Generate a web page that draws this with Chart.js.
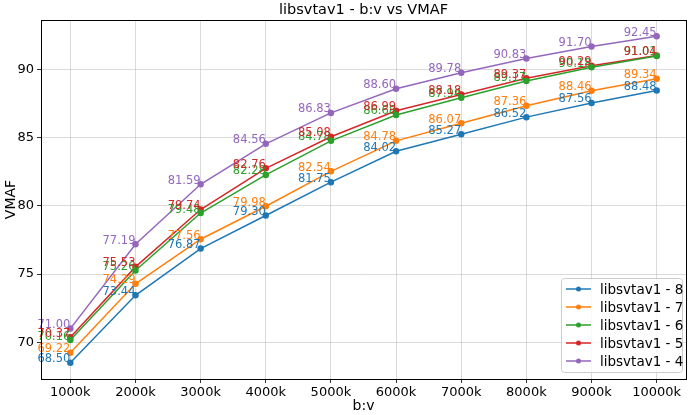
<!DOCTYPE html>
<html><head><meta charset="utf-8">
<script src="https://cdn.jsdelivr.net/npm/chart.js@4.4.1/dist/chart.umd.min.js"></script>
<style>html,body{margin:0;padding:0;background:#fff}#wrap{width:690px;height:415px}</style>
</head><body><div id="wrap"><canvas id="c" width="690" height="415"></canvas></div>
<script>
const bitrates = [1, 2, 3, 4, 5, 6, 7, 8, 9, 10];
const xTickLabels = ["1000k","2000k","3000k","4000k","5000k","6000k","7000k","8000k","9000k","10000k"];
const yTicks = [70, 75, 80, 85, 90];
const seriesNames = ["libsvtav1 - 8","libsvtav1 - 7","libsvtav1 - 6","libsvtav1 - 5","libsvtav1 - 4"];
const preset8 = [68.50, 73.44, 76.87, 79.30, 81.75, 84.02, 85.27, 86.52, 87.56, 88.48];
const preset7 = [69.22, 74.29, 77.56, 79.98, 82.54, 84.78, 86.07, 87.36, 88.46, 89.34];
const preset6 = [70.16, 75.26, 79.48, 82.28, 84.78, 86.68, 87.94, 89.17, 90.18, 91.01];
const preset5 = [70.37, 75.53, 79.74, 82.76, 85.08, 86.99, 88.18, 89.37, 90.29, 91.04];
const preset4 = [71.00, 77.19, 81.59, 84.56, 86.83, 88.60, 89.78, 90.83, 91.70, 92.45];
const colors = ["#1f77b4","#ff7f0e","#2ca02c","#d62728","#9467bd"];
const allValues = [preset8, preset7, preset6, preset5, preset4];

const FONT = "'DejaVu Sans', sans-serif";

const datasets = allValues.map((vals, i) => ({
  label: seriesNames[i],
  data: vals.map((v, j) => ({x: bitrates[j], y: v})),
  borderColor: colors[i],
  backgroundColor: colors[i],
  borderWidth: 1.5,
  pointRadius: 2.5,
  pointHoverRadius: 2.5,
  tension: 0
}));

const decor = {
  id: 'decor',
  afterDatasetsDraw(chart) {
    const ctx = chart.ctx;
    const a = chart.chartArea;
    ctx.save();
    ctx.font = "11.5px " + FONT;
    ctx.textAlign = 'right';
    ctx.textBaseline = 'middle';
    chart.data.datasets.forEach((ds, i) => {
      const meta = chart.getDatasetMeta(i);
      meta.data.forEach((pt, j) => {
        ctx.fillStyle = colors[i];
        ctx.fillText(allValues[i][j].toFixed(2), pt.x, pt.y - 3.5);
      });
    });
    ctx.strokeStyle = '#000';
    ctx.lineWidth = 1;
    ctx.strokeRect(Math.round(a.left) + 0.5, Math.round(a.top) + 0.5, Math.round(a.right - a.left), Math.round(a.bottom - a.top));
    ctx.fillStyle = '#000';
    ctx.font = "14.5px " + FONT;
    ctx.textAlign = 'center';
    ctx.textBaseline = 'middle';
    ctx.fillText("libsvtav1 - b:v vs VMAF", (a.left + a.right) / 2, 10);
    const lw = 121, lh = 94;
    const lx = a.right - 4 - lw, ly = a.bottom - 7 - lh;
    ctx.fillStyle = 'rgba(255,255,255,0.8)';
    ctx.strokeStyle = '#cccccc';
    ctx.lineWidth = 1;
    ctx.beginPath();
    if (ctx.roundRect) ctx.roundRect(lx + 0.5, ly + 0.5, lw, lh, 3); else ctx.rect(lx + 0.5, ly + 0.5, lw, lh);
    ctx.fill(); ctx.stroke();
    ctx.font = "13.5px " + FONT;
    ctx.textAlign = 'left';
    ctx.textBaseline = 'middle';
    seriesNames.forEach((name, i) => {
      const yy = ly + 11 + i * 18;
      ctx.strokeStyle = colors[i];
      ctx.lineWidth = 1.5;
      ctx.beginPath(); ctx.moveTo(lx + 5, yy); ctx.lineTo(lx + 30, yy); ctx.stroke();
      ctx.fillStyle = colors[i];
      ctx.beginPath(); ctx.arc(lx + 17.5, yy, 2.5, 0, Math.PI * 2); ctx.fill();
      ctx.fillStyle = '#000';
      ctx.fillText(name, lx + 39, yy + 1);
    });
    ctx.restore();
  }
};

new Chart(document.getElementById('c'), {
  type: 'line',
  data: { datasets },
  options: {
    responsive: false,
    animation: false,
    devicePixelRatio: 1,
    layout: { padding: { left: 0, right: 4, top: 20, bottom: 0 } },
    plugins: { legend: { display: false }, tooltip: { enabled: false }, title: { display: false } },
    scales: {
      x: {
        type: 'linear',
        min: 0.55, max: 10.45,
        afterBuildTicks(s) { s.ticks = bitrates.map(v => ({value: v})); },
        afterFit(s) { s.height = 36; },
        ticks: {
          callback: (v) => { const k = bitrates.indexOf(v); return k >= 0 ? xTickLabels[k] : ''; },
          color: '#000', font: { family: FONT, size: 13 }, padding: 2, maxRotation: 0, autoSkip: false
        },
        grid: { color: 'rgba(176,176,176,0.6)', lineWidth: 0.8, tickLength: 4, tickColor: '#000', drawTicks: true },
        border: { display: false },
        title: { display: true, text: 'b:v', color: '#000', font: { family: FONT, size: 14 }, padding: { top: 0, bottom: 0 } }
      },
      y: {
        type: 'linear',
        min: 67.3, max: 93.65,
        afterBuildTicks(s) { s.ticks = yTicks.map(v => ({value: v})); },
        afterFit(s) { s.width = 41; },
        ticks: { color: '#000', font: { family: FONT, size: 13 }, padding: 3 },
        grid: { color: 'rgba(176,176,176,0.6)', lineWidth: 0.8, tickLength: 4, tickColor: '#000', drawTicks: true },
        border: { display: false },
        title: { display: true, text: 'VMAF', color: '#000', font: { family: FONT, size: 14 }, padding: { top: 3, bottom: 0 } }
      }
    }
  },
  plugins: [decor]
});
</script></body></html>
